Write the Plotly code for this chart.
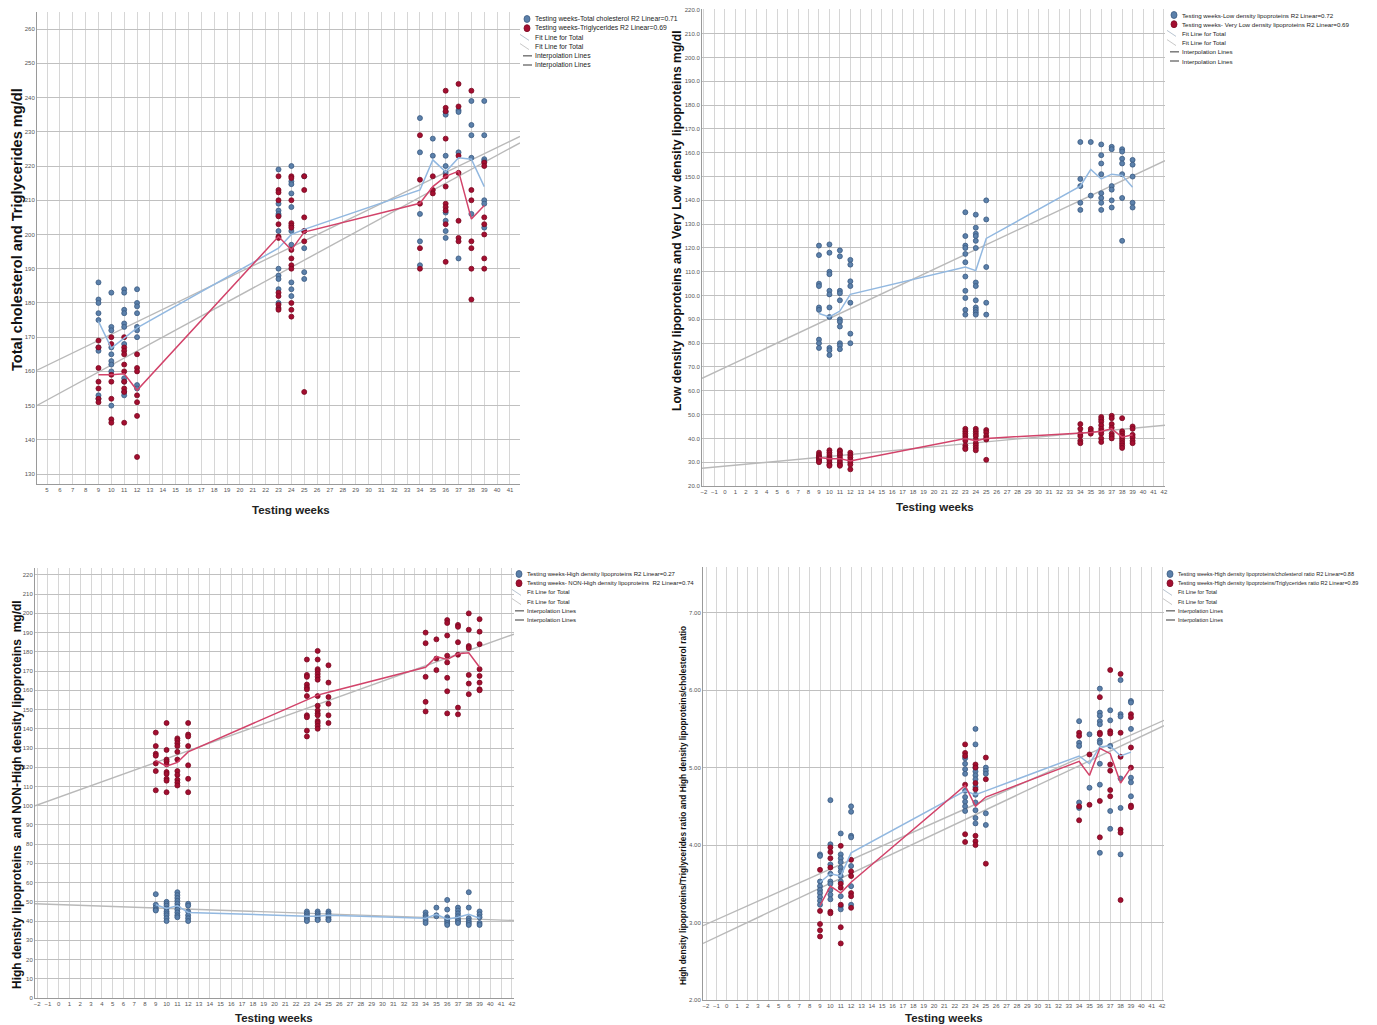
import plotly.graph_objects as go

W, H = 1377, 1025

# ---------------- DATA ----------------
WEEKS = [9, 10, 11, 12, 23, 24, 25, 34, 35, 36, 37, 38, 39]

# Panel 1: Total cholesterol (blue) and Triglycerides (red), mg/dl
TC_POINTS = {
    9: [186, 181, 180, 177, 175, 167, 166, 153, 152],
    10: [183, 173, 172, 167, 165, 163, 162, 160, 150],
    11: [184, 183, 178, 177, 174, 173, 168, 158, 157, 154, 153],
    12: [184, 180, 179, 177, 173, 172, 170, 156, 155],
    23: [219, 209, 207, 206, 205.5, 201, 190, 188, 187, 184, 180],
    24: [220, 215.5, 214.7, 212, 208, 201, 197, 186, 184, 182],
    25: [217, 201, 196, 189, 187],
    34: [234, 224, 206, 198, 191],
    35: [228, 223],
    36: [235.8, 235, 223, 220, 218, 206.4, 204, 201, 199],
    37: [236.3, 235.8, 224, 193],
    38: [239, 232, 229, 222.4, 206],
    39: [239, 229, 222, 221.4, 210, 209, 202],
}
TG_POINTS = {
    9: [169, 167, 161, 157, 155, 152, 151],
    10: [170, 168, 159, 157, 152, 146, 145],
    11: [170, 167, 166, 165, 162, 160, 157, 155, 154, 145],
    12: [165, 161, 160, 153, 151, 147, 135],
    23: [217, 213, 212.3, 210, 205.3, 203, 199.4, 199, 183, 182, 179.5, 178.5, 178],
    24: [217, 216.5, 210, 203.3, 202.6, 202, 195.5, 193, 191, 190, 180, 178, 176],
    25: [217, 213, 205, 201, 198, 154],
    34: [229, 216, 209, 196, 190],
    35: [217, 213, 212],
    36: [242, 237, 236, 228, 217, 214, 209, 208, 207, 203, 192],
    37: [244, 237.4, 223, 218, 204, 199, 198],
    38: [242, 213, 210, 198, 196, 190, 181],
    39: [221, 220, 205, 203, 200, 193, 190],
}
TC_INTERP = [174.6, 166.8, 169.7, 172.7, 196, 200, 201.5, 213, 221.8, 218.3, 222.4, 222, 214]
TG_INTERP = [159, 159, 159.3, 154.5, 199.4, 195.5, 200.7, 209.1, 214, 217, 218.5, 204.5, 208.5]
P1_FIT_INTERCEPT = [152.66, 141.42]   # TC, TG
P1_FIT_SLOPE = [1.819, 2.043]

# Panel 2: LDL (blue) and VLDL (red)
LDL_POINTS = {
    9: [121, 117, 105, 104, 95, 94, 81.5, 80, 78],
    10: [121.5, 118, 110, 109, 102, 100.5, 95, 91, 78, 77, 75],
    11: [119, 116.5, 102, 101, 98, 90, 89, 87, 80, 79, 77.5],
    12: [115, 113, 106, 104, 97, 84, 80],
    23: [135, 125, 121, 120, 117.5, 114, 108, 102, 99, 94, 92],
    24: [134, 128.5, 126, 125, 123, 120, 105.5, 104, 98, 95, 94, 93, 92],
    25: [140, 132, 112, 97, 92],
    34: [164.5, 149, 146, 139, 136],
    35: [164.5, 142],
    36: [163.5, 159, 155.5, 151, 143, 141, 139, 136],
    37: [162.5, 161.5, 146, 144.5, 140, 137],
    38: [161.5, 160.5, 157.5, 155.5, 151, 141, 123],
    39: [157, 155, 150, 139, 137],
}
VLDL_POINTS = {
    9: [34, 33, 32.5, 32, 31.5, 31, 30.5, 30],
    10: [35, 34, 33, 32, 31.5, 31, 30, 29, 28.5],
    11: [35, 34.5, 33.5, 33, 32, 31, 30, 29, 28.5],
    12: [34, 33, 32, 31, 30, 29, 27],
    23: [44, 43, 42, 41, 40, 39, 37, 36, 35.5],
    24: [44, 43, 42, 41, 39.5, 38, 37, 36, 35],
    25: [43.5, 42.5, 41, 40, 39.5, 31],
    34: [46, 44, 42, 41, 39, 38],
    35: [44, 43, 42],
    36: [49, 48, 47, 45.5, 44, 43, 42, 40, 38.5],
    37: [49.5, 48.5, 46, 44.5, 42, 41, 40],
    38: [48.5, 43, 42, 41, 40, 39, 38, 37, 36],
    39: [45, 44, 41.5, 40.5, 39, 38],
}
LDL_INTERP = [92.5, 91, 93.5, 100.5, 112, 110.5, 124, 146, 153, 149, 151, 150.5, 145.5]
VLDL_INTERP = [32, 31.5, 31.5, 30.5, 40, 39, 40, 42, 42.5, 43, 44, 40.5, 41.5]
P2_FIT_INTERCEPT = [69.75, 28.34]   # LDL, VLDL
P2_FIT_SLOPE = [2.065, 0.408]

# Panel 3: HDL (blue) and NON-HDL (red)
HDL_POINTS = {
    9: [54, 48.5, 47, 46, 45.5],
    10: [50, 49, 48, 46.5, 45, 44, 43, 41.5, 40],
    11: [55, 53.5, 52, 50.5, 49, 47.5, 46, 44.5, 43, 42],
    12: [49, 48, 45, 43, 41.5, 40],
    23: [45, 44, 43, 42, 41, 40],
    24: [45, 44, 43, 42, 41, 40.5],
    25: [45, 44, 43, 42, 41, 40.5],
    34: [44.5, 43, 42, 40.5, 39],
    35: [47, 43, 42.5],
    36: [51, 46, 42, 41, 40, 39, 38],
    37: [47, 45.5, 44, 42.5, 41, 40, 39],
    38: [55, 47, 41.5, 40, 39, 38],
    39: [45, 43.5, 42, 39, 38],
}
NONHDL_POINTS = {
    9: [138, 131, 127, 126, 122, 118, 108],
    10: [143, 129, 124, 123, 121.5, 117.5, 116.5, 114, 113, 107],
    11: [135, 134, 132.5, 131, 128, 124, 118, 116, 113.5, 112, 110.5],
    12: [143, 137, 136, 131, 121, 114, 107],
    23: [176, 168, 167, 163, 161.5, 160.5, 157, 147, 146, 139, 136],
    24: [180.5, 176, 171, 170, 168.5, 167, 165.5, 157, 152, 149.5, 148, 147, 144, 143, 141.5, 140],
    25: [173, 164, 156.5, 153, 147, 143],
    34: [190, 184.5, 167, 154, 149],
    35: [186.5, 176.5, 170.5],
    36: [196.5, 195, 188.5, 178, 174.5, 166.5, 159.5, 148],
    37: [194, 193, 185, 178.5, 151, 147.5],
    38: [200, 191.5, 183, 182, 168, 163.5, 158],
    39: [197, 190.5, 184, 171, 167.5, 164, 160.5, 160],
}
HDL_INTERP = [48.5, 46.5, 48, 44.5, 42.5, 42.5, 43, 41.5, 43.5, 41, 42, 43.5, 41.5]
NONHDL_INTERP = [123.5, 120.5, 122.5, 128, 155, 157.5, 159, 172, 177.5, 176, 179, 179.5, 172]
P3_FIT_INTERCEPT = [48.57, 104.39]   # HDL, NON-HDL
P3_FIT_SLOPE = [-0.196, 2.010]

# Panel 4: HDL/cholesterol ratio (blue) and HDL/triglycerides ratio (red)
HC_POINTS = {
    9: [3.88, 3.86, 3.53, 3.47, 3.42, 3.38, 3.33, 3.28, 3.23],
    10: [4.58, 4.01, 3.75, 3.63, 3.53, 3.5, 3.42, 3.36, 3.3],
    11: [4.15, 3.88, 3.83, 3.78, 3.71, 3.66, 3.6, 3.53, 3.34, 3.21, 3.17],
    12: [4.5, 4.43, 4.12, 4.1, 3.73, 3.47, 3.23],
    23: [5.12, 5.05, 4.98, 4.92, 4.7, 4.62, 4.56, 4.5, 4.44],
    24: [5.5, 5.3, 5.0, 4.95, 4.9, 4.85, 4.75, 4.65, 4.55, 4.45, 4.35, 4.28],
    25: [5.0, 4.96, 4.92, 4.41, 4.26],
    34: [5.6, 5.32, 5.28, 4.55, 4.48],
    35: [5.43, 4.74],
    36: [6.02, 5.71, 5.67, 5.6, 5.56, 5.35, 5.32, 5.05, 4.78, 3.9],
    37: [5.74, 5.61, 5.28, 4.44, 4.21],
    38: [6.13, 5.69, 5.66, 4.86, 4.48, 3.88],
    39: [5.86, 5.84, 5.5, 4.87, 4.81, 4.63],
}
HT_POINTS = {
    9: [3.68, 3.15, 2.98, 2.9, 2.82],
    10: [3.97, 3.91, 3.83, 3.71, 3.14, 3.12],
    11: [3.99, 3.5, 3.45, 3.23, 2.94, 2.73],
    12: [3.81, 3.66, 3.6, 3.38, 3.34, 3.19],
    23: [5.3, 5.19, 5.15, 4.78, 4.14, 4.04],
    24: [5.04, 5.0, 4.8, 4.72, 4.12, 4.05, 4.0],
    25: [5.13, 4.85, 3.76],
    34: [5.45, 5.41, 4.5, 4.32],
    35: [5.17, 4.52],
    36: [5.91, 5.45, 5.43, 4.57, 4.1],
    37: [6.26, 5.47, 5.44, 5.04, 4.96, 4.71, 4.63],
    38: [6.21, 5.45, 5.14, 4.2, 4.16, 3.29],
    39: [5.69, 5.65, 5.26, 5.0, 4.51, 4.49],
}
HC_INTERP = [3.52, 3.63, 3.6, 3.9, 4.7, 4.65, 4.7, 5.15, 5.05, 5.27, 5.28, 5.15, 5.2]
HT_INTERP = [3.22, 3.47, 3.38, 3.52, 4.77, 4.5, 4.62, 5.08, 4.9, 5.25, 5.18, 4.8, 5.0]
P4_FIT_INTERCEPT = [3.096, 2.875]   # HDL/chol, HDL/TG
P4_FIT_SLOPE = [0.0596, 0.0632]

LEGENDS = [
    ["Testing weeks-Total cholesterol R2 Linear=0.71", "Testing weeks-Triglycerides R2 Linear=0.69"],
    ["Testing weeks-Low density lipoproteins R2 Linear=0.72", "Testing weeks- Very Low density lipoproteins R2 Linear=0.69"],
    ["Testing weeks-High density lipoproteins R2 Linear=0.27", "Testing weeks- NON-High density lipoproteins  R2 Linear=0.74"],
    ["Testing weeks-High density lipoproteins/cholesterol ratio R2 Linear=0.88",
     "Testing weeks-High density lipoproteins/Triglycerides ratio R2 Linear=0.89"],
]
XTITLE = "Testing weeks"
YTITLES = [
    "Total cholesterol and Triglycerides mg/dl",
    "Low density lipoproteins and Very Low density lipoproteins mg/dl",
    "High density lipoproteins  and NON-High density lipoproteins  mg/dl",
    "High density lipoproteins/Triglycerides ratio and High density lipoproteins/cholesterol ratio",
]

# ---------------- STYLE / LAYOUT ----------------
BLUE_FILL, BLUE_EDGE = "#5b80aa", "#3b5b82"
RED_FILL, RED_EDGE = "#a30e30", "#7a0a22"
BLUE_LINE, RED_LINE = "#92b8e0", "#d2436a"
FIT_COLOR = "#b9b9b9"
GRID_V, GRID_H = "#d6d6d6", "#c0c0c0"
FONT = "Liberation Sans"

# panel geometry in pixels: left, right, top, bottom
PANELS = [
    dict(px=(37, 520, 12, 484), xr=(4.22, 41.78), yr=(127.1, 265.0), ydt=10, yfmt="d", x0tick=5,
         ytitle=(17, 230, 14.6), xtitle=(291, 510), leg=(527, 19, 6.8)),
    dict(px=(702, 1165, 9, 486), xr=(-2.19, 42.1), yr=(20.0, 220.4), ydt=10, yfmt=".1f", x0tick=-2,
         ytitle=(677, 221, 12.2), xtitle=(935, 507), leg=(1174, 15, 6.2)),
    dict(px=(35, 514, 568, 998), xr=(-2.19, 42.19), yr=(0.0, 223.6), ydt=10, yfmt="d", x0tick=-2,
         ytitle=(17, 795, 12.0), xtitle=(274, 1018), leg=(519, 574, 6.0)),
    dict(px=(703, 1164, 567, 1000), xr=(-2.29, 42.19), yr=(2.0, 7.59), ydt=1, yfmt=".2f", x0tick=-2,
         ytitle=(683, 806, 8.3), xtitle=(944, 1018), leg=(1170, 574, 5.5)),
]

SERIES = [
    (TC_POINTS, TG_POINTS, TC_INTERP, TG_INTERP, P1_FIT_INTERCEPT, P1_FIT_SLOPE),
    (LDL_POINTS, VLDL_POINTS, LDL_INTERP, VLDL_INTERP, P2_FIT_INTERCEPT, P2_FIT_SLOPE),
    (HDL_POINTS, NONHDL_POINTS, HDL_INTERP, NONHDL_INTERP, P3_FIT_INTERCEPT, P3_FIT_SLOPE),
    (HC_POINTS, HT_POINTS, HC_INTERP, HT_INTERP, P4_FIT_INTERCEPT, P4_FIT_SLOPE),
]

fig = go.Figure()
layout = dict(
    template="none",
    width=W, height=H, margin=dict(l=0, r=0, t=0, b=0),
    paper_bgcolor="white", plot_bgcolor="white", showlegend=False,
    font=dict(family=FONT, color="#222"),
)
shapes, annotations = [], []


def flatten(points):
    xs, ys = [], []
    for wk, vals in points.items():
        xs += [wk] * len(vals)
        ys += vals
    return xs, ys


for i, (panel, series) in enumerate(zip(PANELS, SERIES)):
    n = "" if i == 0 else str(i + 1)
    xa, ya = "x" + n, "y" + n
    l, r, t, b = panel["px"]
    pts_b, pts_r, int_b, int_r, fit_a, fit_b = series

    layout["xaxis" + n] = dict(
        domain=[l / W, r / W], anchor=ya, range=list(panel["xr"]),
        tickmode="linear", tick0=panel["x0tick"], dtick=1,
        showgrid=True, gridcolor=GRID_V, gridwidth=1, zeroline=False,
        showline=True, linecolor="#9a9a9a", linewidth=1, ticks="",
        tickfont=dict(size=6, color="#555"), automargin=False,
    )
    layout["yaxis" + n] = dict(
        domain=[1 - b / H, 1 - t / H], anchor=xa, range=list(panel["yr"]),
        tickmode="linear", tick0=0, dtick=panel["ydt"], tickformat=panel["yfmt"],
        showgrid=True, gridcolor=GRID_H, gridwidth=1, zeroline=False,
        showline=True, linecolor="#9a9a9a", linewidth=1, ticks="",
        tickfont=dict(size=6, color="#555"), automargin=False,
    )

    # axis titles (placed as in the reference)
    tx, ty, tfs = panel["ytitle"]
    annotations.append(dict(x=tx / W, y=1 - ty / H, xref="paper", yref="paper", text=YTITLES[i],
                            textangle=-90, showarrow=False, xanchor="center", yanchor="middle",
                            font=dict(size=tfs, color="#111", weight="bold")))
    xx, xy = panel["xtitle"]
    annotations.append(dict(x=xx / W, y=1 - xy / H, xref="paper", yref="paper", text=XTITLE,
                            showarrow=False, xanchor="center", yanchor="middle",
                            font=dict(size=11.5, color="#222", weight="bold")))

    # fit lines (linear regression, drawn across the full x range)
    x_lo, x_hi = panel["xr"]
    for a, s in zip(fit_a, fit_b):
        fig.add_trace(go.Scatter(
            x=[x_lo, x_hi], y=[a + s * x_lo, a + s * x_hi], mode="lines",
            line=dict(color=FIT_COLOR, width=1.4), xaxis=xa, yaxis=ya,
            name="Fit Line for Total", hoverinfo="skip"))

    # scatter points
    for pts, fill, edge, label in ((pts_b, BLUE_FILL, BLUE_EDGE, LEGENDS[i][0]),
                                   (pts_r, RED_FILL, RED_EDGE, LEGENDS[i][1])):
        xs, ys = flatten(pts)
        fig.add_trace(go.Scatter(
            x=xs, y=ys, mode="markers", xaxis=xa, yaxis=ya, name=label,
            marker=dict(size=5, color=fill, line=dict(color=edge, width=0.8))))

    # interpolation lines (weekly means)
    for vals, col in ((int_b, BLUE_LINE), (int_r, RED_LINE)):
        fig.add_trace(go.Scatter(
            x=WEEKS, y=vals, mode="lines", line=dict(color=col, width=1.5),
            xaxis=xa, yaxis=ya, name="Interpolation Lines"))

    # compact legend (SPSS style)
    lx, ly, lfs = panel["leg"]
    step = 9.2
    rows = [("marker", BLUE_FILL, BLUE_EDGE, LEGENDS[i][0]),
            ("marker", RED_FILL, RED_EDGE, LEGENDS[i][1]),
            ("fit", "#b8c4d0", None, "Fit Line for Total"),
            ("fit", "#c8c8c8", None, "Fit Line for Total"),
            ("interp", "#7a7a7a", None, "Interpolation Lines"),
            ("interp", "#7a7a7a", None, "Interpolation Lines")]
    for k, (kind, col, edge, txt) in enumerate(rows):
        cy = ly + k * step
        if kind == "marker":
            shapes.append(dict(type="circle", xref="paper", yref="paper",
                               x0=(lx - 3) / W, x1=(lx + 3) / W,
                               y0=1 - (cy + 3.5) / H, y1=1 - (cy - 3.5) / H,
                               fillcolor=col, line=dict(color=edge, width=0.8)))
        elif kind == "fit":
            shapes.append(dict(type="line", xref="paper", yref="paper",
                               x0=(lx - 7) / W, x1=(lx + 2) / W,
                               y0=1 - (cy - 3) / H, y1=1 - (cy + 3) / H,
                               line=dict(color=col, width=1)))
        else:
            shapes.append(dict(type="line", xref="paper", yref="paper",
                               x0=(lx - 4) / W, x1=(lx + 5) / W,
                               y0=1 - cy / H, y1=1 - cy / H,
                               line=dict(color=col, width=1.5)))
        annotations.append(dict(x=(lx + 6) / W, y=1 - cy / H, xref="paper", yref="paper",
                                text=txt, showarrow=False, xanchor="left", yanchor="middle",
                                font=dict(size=lfs, color="#222")))

layout["shapes"] = shapes
layout["annotations"] = annotations
fig.update_layout(**layout)
fig.write_html("out.html")
